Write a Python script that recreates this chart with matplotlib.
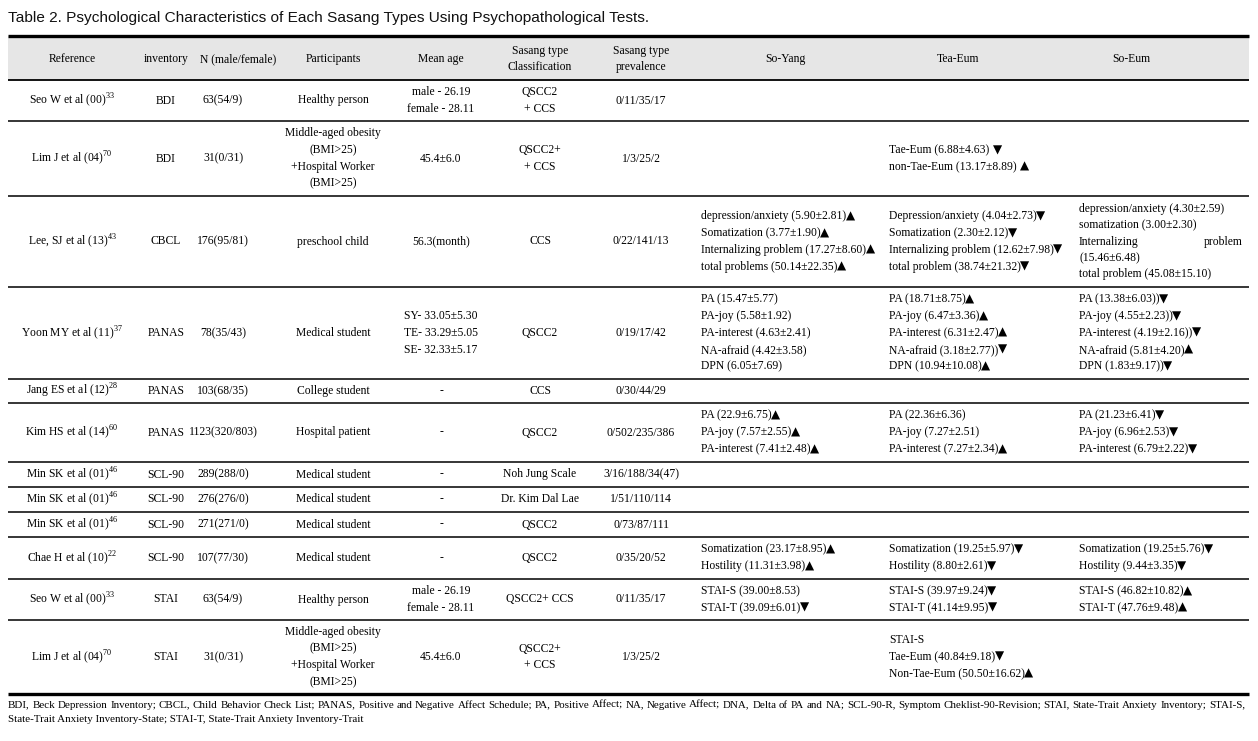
import matplotlib
matplotlib.use("Agg")
import matplotlib.pyplot as plt

# ---------------- data ----------------
title = "Table 2. Psychological Characteristics of Each Sasang Types Using Psychopathological Tests."
headers = ["Reference", "inventory", "N (male/female)", "Participants", "Mean age",
           "Sasang type\nClassification", "Sasang type\nprevalence", "So-Yang", "Tea-Eum", "So-Eum"]

references = ["Seo W et al (00)", "Lim J et al (04)", "Lee, SJ et al (13)", "Yoon MY et al (11)",
              "Jang ES et al (12)", "Kim HS et al (14)", "Min SK et al (01)", "Min SK et al (01)",
              "Min SK et al (01)", "Chae H et al (10)", "Seo W et al (00)", "Lim J et al (04)"]
ref_sups = ["33", "70", "43", "37", "28", "60", "46", "46", "46", "22", "33", "70"]
inventories = ["BDI", "BDI", "CBCL", "PANAS", "PANAS", "PANAS", "SCL-90", "SCL-90", "SCL-90",
               "SCL-90", "STAI", "STAI"]
n_values = ["63(54/9)", "31(0/31)", "176(95/81)", "78(35/43)", "103(68/35)", "1123(320/803)",
            "289(288/0)", "276(276/0)", "271(271/0)", "107(77/30)", "63(54/9)", "31(0/31)"]
obesity = "Middle-aged obesity\n(BMI>25)\n+Hospital Worker\n(BMI>25)"
participants = ["Healthy person", obesity, "preschool child", "Medical student", "College student",
                "Hospital patient", "Medical student", "Medical student", "Medical student",
                "Medical student", "Healthy person", obesity]
mean_ages = ["male - 26.19\nfemale - 28.11", "45.4±6.0", "56.3(month)",
             "SY- 33.05±5.30\nTE- 33.29±5.05\nSE- 32.33±5.17", "-", "-", "-", "-", "-", "-",
             "male - 26.19\nfemale - 28.11", "45.4±6.0"]
classifications = ["QSCC2\n+ CCS", "QSCC2+\n+ CCS", "CCS", "QSCC2", "CCS", "QSCC2",
                   "Noh Jung Scale", "Dr. Kim Dal Lae", "QSCC2", "QSCC2", "QSCC2+ CCS", "QSCC2+\n+ CCS"]
prevalences = ["0/11/35/17", "1/3/25/2", "0/22/141/13", "0/19/17/42", "0/30/44/29", "0/502/235/386",
               "3/16/188/34(47)", "1/51/110/114", "0/73/87/111", "0/35/20/52", "0/11/35/17", "1/3/25/2"]

so_yang = [
    [], [],
    ["depression/anxiety (5.90±2.81)▲", "Somatization (3.77±1.90)▲",
     "Internalizing problem (17.27±8.60)▲", "total problems (50.14±22.35)▲"],
    ["PA (15.47±5.77)", "PA-joy (5.58±1.92)", "PA-interest (4.63±2.41)",
     "NA-afraid (4.42±3.58)", "DPN (6.05±7.69)"],
    [],
    ["PA (22.9±6.75)▲", "PA-joy (7.57±2.55)▲", "PA-interest (7.41±2.48)▲"],
    [], [], [],
    ["Somatization (23.17±8.95)▲", "Hostility (11.31±3.98)▲"],
    ["STAI-S (39.00±8.53)", "STAI-T (39.09±6.01)▼"],
    [],
]
tea_eum = [
    [],
    ["Tae-Eum (6.88±4.63) ▼", "non-Tae-Eum (13.17±8.89) ▲"],
    ["Depression/anxiety (4.04±2.73)▼", "Somatization (2.30±2.12)▼",
     "Internalizing problem (12.62±7.98)▼", "total problem (38.74±21.32)▼"],
    ["PA (18.71±8.75)▲", "PA-joy (6.47±3.36)▲", "PA-interest (6.31±2.47)▲",
     "NA-afraid (3.18±2.77))▼", "DPN (10.94±10.08)▲"],
    [],
    ["PA (22.36±6.36)", "PA-joy (7.27±2.51)", "PA-interest (7.27±2.34)▲"],
    [], [], [],
    ["Somatization (19.25±5.97)▼", "Hostility (8.80±2.61)▼"],
    ["STAI-S (39.97±9.24)▼", "STAI-T (41.14±9.95)▼"],
    ["STAI-S", "Tae-Eum (40.84±9.18)▼", "Non-Tae-Eum (50.50±16.62)▲"],
]
so_eum = [
    [], [],
    ["depression/anxiety (4.30±2.59)", "somatization (3.00±2.30)", "Internalizing|problem",
     "(15.46±6.48)", "total problem (45.08±15.10)"],
    ["PA (13.38±6.03))▼", "PA-joy (4.55±2.23))▼", "PA-interest (4.19±2.16))▼",
     "NA-afraid (5.81±4.20)▲", "DPN (1.83±9.17))▼"],
    [],
    ["PA (21.23±6.41)▼", "PA-joy (6.96±2.53)▼", "PA-interest (6.79±2.22)▼"],
    [], [], [],
    ["Somatization (19.25±5.76)▼", "Hostility (9.44±3.35)▼"],
    ["STAI-S (46.82±10.82)▲", "STAI-T (47.76±9.48)▲"],
    [],
]
footnote_lines = [
    "BDI, Beck Depression Inventory; CBCL, Child Behavior Check List; PANAS, Positive and Negative Affect "
    "Schedule; PA, Positive Affect; NA, Negative Affect; DNA, Delta of PA and NA; SCL-90-R, Symptom "
    "Cheklist-90-Revision; STAI, State-Trait Anxiety Inventory; STAI-S,",
    "State-Trait Anxiety Inventory-State; STAI-T, State-Trait Anxiety Inventory-Trait",
]

# ---------------- layout ----------------
W, H = 1258, 741
plt.rcParams['mathtext.fontset'] = 'custom'
plt.rcParams['mathtext.rm'] = 'Liberation Serif'
SERIF = ['Liberation Serif', 'DejaVu Serif', 'DejaVu Sans']
FS = 8.4
FOOT_FS = 7.9

fig = plt.figure(figsize=(W / 100, H / 100), dpi=100)
ax = fig.add_axes([0, 0, 1, 1])
ax.set_xlim(0, W)
ax.set_ylim(H, 0)
ax.axis('off')
renderer = fig.canvas.get_renderer()

x_left, x_right = 8, 1249
top_rule, head_bottom = 36, 80
row_edges = [80, 121, 196, 287, 379, 403, 462, 487, 512, 537, 579, 620, 694]
header_x = [72, 166, 238, 333, 441, 540, 641, 785, 958, 1131]
col_x = [72, 166, 223, 333, 441, 540, 641]
text_left = [701, 889, 1079]
so_eum_right = 1243
line_gap = 16.8


def width_of(artist):
    return artist.get_window_extent(renderer).width


# title, scaled to the reference's width
t = ax.text(x_left, 18, title, fontsize=12, family=['Liberation Sans', 'DejaVu Sans'],
            ha='left', va='center', color='#111111')
t.set_fontsize(12 * 640 / width_of(t))

# header background and rules
ax.fill_between([x_left, x_right], top_rule, head_bottom, color='#e6e6e6', lw=0)
ax.plot([x_left, x_right], [top_rule, top_rule], color='black', lw=2.4, solid_capstyle='butt')
ax.plot([x_left, x_right], [head_bottom, head_bottom], color='black', lw=1.3, solid_capstyle='butt')
for y in row_edges[1:-1]:
    ax.plot([x_left, x_right], [y, y], color='black', lw=1.1, solid_capstyle='butt')
ax.plot([x_left, x_right], [row_edges[-1], row_edges[-1]], color='black', lw=2.4, solid_capstyle='butt')


def draw_one(x, y, s, ha):
    tri = None
    if s and s[-1] in '▲▼':
        tri = s[-1]
        s = s[:-1]
    extra = 0
    if s.endswith(' '):
        s = s.rstrip(' ')
        extra = 4
    a = ax.text(x, y, s, fontsize=FS, family=SERIF, ha=ha, va='center')
    if tri:
        bb = a.get_window_extent(renderer)
        ax.text(bb.x1 + extra - 0.5, y + 3.0, tri, fontsize=8.6, family=['DejaVu Sans'],
                ha='left', va='baseline')


def draw_lines(x, yc, lines, ha='center', gap=line_gap):
    n = len(lines)
    for i, s in enumerate(lines):
        y = yc + (i - (n - 1) / 2) * gap
        if '|' in s:
            a, b = s.split('|')
            ax.text(x, y, a, fontsize=FS, family=SERIF, ha='left', va='center')
            ax.text(so_eum_right, y, b, fontsize=FS, family=SERIF, ha='right', va='center')
        else:
            draw_one(x, y, s, ha)


# header text
for hx, h in zip(header_x, headers):
    draw_lines(hx, (top_rule + head_bottom) / 2 + 1, h.split('\n'))

simple_cols = [inventories, n_values, participants, mean_ages, classifications, prevalences]
for r in range(len(references)):
    yc = (row_edges[r] + row_edges[r + 1]) / 2
    ax.text(col_x[0], yc, references[r] + r"$^{\mathrm{" + ref_sups[r] + "}}$",
            fontsize=FS, family=SERIF, ha='center', va='center')
    for c, col in enumerate(simple_cols):
        draw_lines(col_x[c + 1], yc, col[r].split('\n'))
    draw_lines(text_left[0], yc, so_yang[r], ha='left')
    draw_lines(text_left[1], yc, tea_eum[r], ha='left')
    gap = 16.3 if r == 2 else line_gap
    draw_lines(text_left[2], yc, so_eum[r], ha='left', gap=gap)

# justified footnote
foot_y = [705, 719]
for li, line in enumerate(footnote_lines):
    if li == len(footnote_lines) - 1:
        ax.text(x_left, foot_y[li], line, fontsize=FOOT_FS, family=SERIF, ha='left', va='center')
        continue
    words = line.split(' ')
    arts = [ax.text(0, foot_y[li], w, fontsize=FOOT_FS, family=SERIF, ha='left', va='center')
            for w in words]
    widths = [width_of(a) for a in arts]
    gap = (1245 - x_left - sum(widths)) / (len(words) - 1)
    x = x_left
    for a, w in zip(arts, widths):
        a.set_x(x)
        x += w + gap

fig.savefig("out.png", dpi=100)
